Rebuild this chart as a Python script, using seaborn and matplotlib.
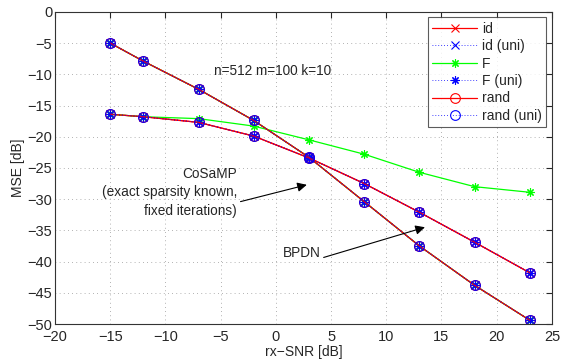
import numpy as np
import pandas as pd
import matplotlib
matplotlib.use("Agg")
import matplotlib.pyplot as plt
import seaborn as sns

# data
snr = [-15, -12, -7, -2, 3, 8, 13, 18, 23]
steep_mse = [-5.0, -7.9, -12.4, -17.4, -23.3, -30.4, -37.5, -43.8, -49.4]
flat_mse = [-16.4, -16.8, -17.7, -19.9, -23.4, -27.5, -32.1, -36.9, -41.8]
flat_mse_F = [-16.4, -16.8, -17.1, -18.3, -20.5, -22.8, -25.7, -28.0, -28.9]

series_names = ["id", "id (uni)", "F", "F (uni)", "rand", "rand (uni)"]
series_colors = ["#ff0000", "#0000ff", "#00ff00", "#0000ff", "#ff0000", "#0000ff"]
series_styles = ["-", (0, (1, 2.5)), "-", (0, (1, 2.5)), "-", (0, (1, 2.5))]
series_markers = ["x", "x", (8, 2, 0), (8, 2, 0), "o", "o"]

# each series has one curve per algorithm
curves = {
    "id": [steep_mse, flat_mse],
    "id (uni)": [steep_mse, flat_mse],
    "F": [steep_mse, flat_mse_F],
    "F (uni)": [steep_mse, flat_mse],
    "rand": [steep_mse, flat_mse],
    "rand (uni)": [steep_mse, flat_mse],
}

sns.set_style("white")
plt.rcParams["font.family"] = ["Liberation Sans", "DejaVu Sans"]

fig = plt.figure(figsize=(5.62, 3.6), dpi=100)
ax = fig.add_axes([0.098, 0.1, 0.884, 0.867])

for name, color, ls, mk in zip(series_names, series_colors, series_styles, series_markers):
    dotted = ls != "-"
    for i, vals in enumerate(curves[name]):
        df = pd.DataFrame({"snr": snr, "mse": vals})
        sns.lineplot(
            data=df, x="snr", y="mse", ax=ax, color=color, linestyle=ls,
            marker=mk, markersize=7 if mk == "o" else 6,
            markerfacecolor="none", markeredgecolor=color, markeredgewidth=0.8,
            linewidth=0.6 if dotted else 0.9, label=name if i == 0 else None,
        )

ax.set_xlim(-20, 25)
ax.set_ylim(-50, 0)
ax.set_xticks(np.arange(-20, 26, 5))
ax.set_yticks(np.arange(-50, 1, 5))
ax.set_xlabel("rx\u2212SNR [dB]", fontsize=10, labelpad=1)
ax.set_ylabel("MSE [dB]", fontsize=10, labelpad=2)
ax.grid(True, linestyle=(0, (1, 4)), color="#999999", linewidth=0.6)
ax.tick_params(axis="both", direction="in", top=True, right=True, labelsize=10.5, length=4)
ax.tick_params(axis="x", pad=4)
ax.tick_params(axis="y", pad=2)
for sp in ax.spines.values():
    sp.set_color("#333333")
    sp.set_linewidth(0.8)

# unicode minus on ticks like the reference
ax.set_xticklabels([f"{t:d}".replace("-", "\u2212") for t in range(-20, 26, 5)])
ax.set_yticklabels([f"{t:d}".replace("-", "\u2212") for t in range(-50, 1, 5)])

leg = ax.legend(loc="upper right", fontsize=10, frameon=True, fancybox=False,
                borderpad=0.3, labelspacing=0.25, handlelength=3.2,
                handletextpad=0.4, borderaxespad=0.4)
leg.get_frame().set_edgecolor("#333333")
leg.get_frame().set_linewidth(0.8)

ax.text(-0.3, -9.5, "n=512 m=100 k=10", ha="center", va="center", fontsize=9.8)

ax.annotate("CoSaMP\n(exact sparsity known,\nfixed iterations)",
            xy=(2.8, -27.7), xytext=(-3.5, -28.9), ha="right", va="center",
            fontsize=9.8, linespacing=1.4,
            arrowprops=dict(arrowstyle="-|>", color="black", lw=0.8,
                            mutation_scale=14, shrinkA=0, shrinkB=0,
                            relpos=(1.0, 0.3)))
ax.annotate("BPDN", xy=(13.5, -34.5), xytext=(0.6, -38.6), ha="left", va="center",
            fontsize=9.8,
            arrowprops=dict(arrowstyle="-|>", color="black", lw=0.8,
                            mutation_scale=14, shrinkA=0, shrinkB=0,
                            relpos=(1.0, 0.1)))

fig.savefig("out.png", dpi=100)
